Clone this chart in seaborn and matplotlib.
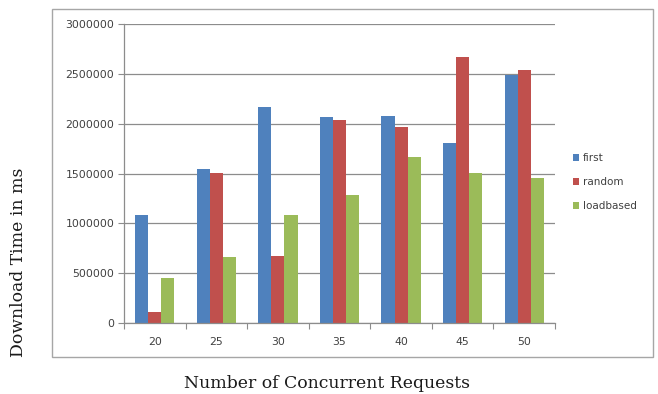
import matplotlib
matplotlib.use("Agg")
import matplotlib.pyplot as plt
from matplotlib.patches import Rectangle
from matplotlib.ticker import FixedLocator
import seaborn as sns
import pandas as pd

# Download time (ms) per strategy at each level of concurrency
requests = ["20", "25", "30", "35", "40", "45", "50"]
first = [1080000, 1550000, 2170000, 2065000, 2075000, 1805000, 2490000]
random_ = [110000, 1510000, 675000, 2040000, 1965000, 2670000, 2540000]
loadbased = [455000, 665000, 1080000, 1280000, 1670000, 1510000, 1450000]
series_names = ["first", "random", "loadbased"]
colors = ["#4F81BD", "#C0504D", "#9BBB59"]

df = pd.DataFrame({
    "requests": requests * 3,
    "time": first + random_ + loadbased,
    "strategy": sum([[s] * len(requests) for s in series_names], []),
})

sns.set_style("white")
fig = plt.figure(figsize=(6.58, 3.94), dpi=100)

# chart frame around plot and legend
fig.patches.append(Rectangle((52 / 658, 1 - 357 / 394), (653 - 52) / 658, (357 - 9) / 394,
                             transform=fig.transFigure, fill=False,
                             edgecolor="#A6A6A6", linewidth=1.0, zorder=0))

ax = fig.add_axes([124 / 658, 1 - 323 / 394, (555 - 124) / 658, (323 - 24) / 394])
sns.barplot(data=df, x="requests", y="time", hue="strategy", hue_order=series_names,
            palette=colors, width=0.64, gap=0, saturation=1, ax=ax, legend=True,
            linewidth=0)

ax.set_ylim(0, 3000000)
ax.set_xlim(-0.5, 6.5)
ax.set_yticks(range(0, 3000001, 500000))
ax.set_yticklabels([str(v) for v in range(0, 3000001, 500000)])
ax.grid(axis="y", color="#8C8C8C", linewidth=0.9)
ax.set_axisbelow(True)

for side in ["top", "right"]:
    ax.spines[side].set_visible(False)
for side in ["left", "bottom"]:
    ax.spines[side].set_color("#8C8C8C")
    ax.spines[side].set_linewidth(0.9)

ax.tick_params(axis="y", length=4, width=0.8, color="#8C8C8C", labelsize=7.8,
               labelcolor="#404040", pad=3, left=True)
ax.tick_params(axis="x", length=0, labelsize=7.8, labelcolor="#404040", pad=10)
ax.xaxis.set_minor_locator(FixedLocator([i + 0.5 for i in range(-1, 7)]))
ax.tick_params(axis="x", which="minor", length=4, width=0.8, color="#8C8C8C", bottom=True)

ax.set_xlabel("")
ax.set_ylabel("")

fig.text(19 / 658, 1 - 262 / 394, "Download Time in ms", rotation=90, ha="center", va="center",
         family="DejaVu Serif", fontsize=12.4, color="#1A1A1A")
fig.text(327 / 658, 1 - 383 / 394, "Number of Concurrent Requests", ha="center", va="center",
         family="DejaVu Serif", fontsize=12.4, color="#1A1A1A")

leg = ax.legend(loc="center left", bbox_to_anchor=(568 / 658, 1 - 182 / 394),
                bbox_transform=fig.transFigure, frameon=False, fontsize=7.5,
                handlelength=0.6, handleheight=0.6, handletextpad=0.3,
                labelspacing=1.35, borderpad=0)
for t in leg.get_texts():
    t.set_color("#404040")

fig.savefig("out.png", dpi=100)
